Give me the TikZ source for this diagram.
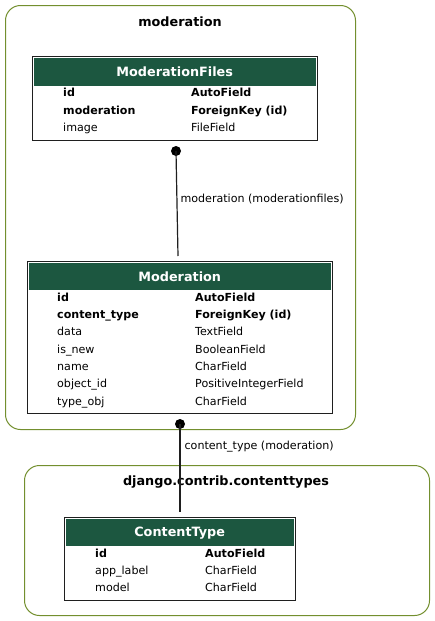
\documentclass[tikz,border=0pt]{standalone}
\usepackage{fontspec}
\setmainfont{DejaVu Sans}
\usepackage{tikz}
\usetikzlibrary{positioning}
\definecolor{headgreen}{rgb}{0.11,0.34,0.25}
\definecolor{clusterolive}{rgb}{0.45,0.56,0.18}
\definecolor{boxgray}{rgb}{0.12,0.12,0.12}
\tikzset{
cluster_box/.style={rectangle, rounded corners=15pt, draw=clusterolive, line width=1pt, anchor=north west, inner sep=0},
cluster_title/.style={font=\fontsize{12.8}{14}\selectfont\bfseries, inner sep=0},
table_box/.style={rectangle, draw=boxgray, line width=1.4pt, fill=white, anchor=north west, inner sep=0},
table_head/.style={rectangle, fill=headgreen, text=white, anchor=north west, font=\fontsize{12.8}{14}\selectfont\bfseries, inner sep=0},
field/.style={anchor=west, inner sep=0, text height=10pt, text depth=2pt, font=\fontsize{11.1}{13}\selectfont},
key_field/.style={field, font=\fontsize{11.1}{13}\selectfont\bfseries},
dot/.style={circle, fill=black, minimum size=10pt, inner sep=0},
edge_label/.style={font=\fontsize{11.1}{13}\selectfont, inner sep=0}
}
\begin{document}
\begin{tikzpicture}[x=1pt, y=-1pt]
    \useasboundingbox (0,0) rectangle (435,621);

    % app clusters
    \node[cluster_box, minimum width=350pt, minimum height=424pt] (moderation_app) at (5,5) {};
    \node[cluster_title] (moderation_title) at (180,22) {moderation};
    \node[cluster_box, minimum width=405pt, minimum height=150pt] (contenttypes_app) at (24,465) {};
    \node[cluster_title] (contenttypes_title) at (226,482) {django.contrib.contenttypes};

    % ModerationFiles
    \node[table_box, minimum width=285pt, minimum height=84pt] (mf_box) at (32,56) {};
    \node[table_head, minimum width=282pt, minimum height=28pt] (mf_head) at (33.5,58) {ModerationFiles};
    \node[key_field] (mf_id) at (63,92) {id};
    \node[key_field] (mf_id_type) at (191,92) {AutoField};
    \node[key_field] (mf_moderation) at (63,110) {moderation};
    \node[key_field] (mf_moderation_type) at (191,110) {ForeignKey (id)};
    \node[field] (mf_image) at (63,127) {image};
    \node[field] (mf_image_type) at (191,127) {FileField};

    % Moderation
    \node[table_box, minimum width=305pt, minimum height=152pt] (mod_box) at (27,261) {};
    \node[table_head, minimum width=302pt, minimum height=27pt] (mod_head) at (28.5,263) {Moderation};
    \node[key_field] (mod_id) at (57,297) {id};
    \node[key_field] (mod_id_type) at (195,297) {AutoField};
    \node[key_field] (mod_ct) at (57,314) {content\_type};
    \node[key_field] (mod_ct_type) at (195,314) {ForeignKey (id)};
    \node[field] (mod_data) at (57,331) {data};
    \node[field] (mod_data_type) at (195,331) {TextField};
    \node[field] (mod_new) at (57,349) {is\_new};
    \node[field] (mod_new_type) at (195,349) {BooleanField};
    \node[field] (mod_name) at (57,366) {name};
    \node[field] (mod_name_type) at (195,366) {CharField};
    \node[field] (mod_obj) at (57,383) {object\_id};
    \node[field] (mod_obj_type) at (195,383) {PositiveIntegerField};
    \node[field] (mod_tobj) at (57,401) {type\_obj};
    \node[field] (mod_tobj_type) at (195,401) {CharField};

    % ContentType
    \node[table_box, minimum width=231pt, minimum height=83pt] (ct_box) at (64,517) {};
    \node[table_head, minimum width=228pt, minimum height=27pt] (ct_head) at (65.5,519) {ContentType};
    \node[key_field] (ct_id) at (95,553) {id};
    \node[key_field] (ct_id_type) at (205,553) {AutoField};
    \node[field] (ct_label) at (95,570) {app\_label};
    \node[field] (ct_label_type) at (205,570) {CharField};
    \node[field] (ct_model) at (95,587) {model};
    \node[field] (ct_model_type) at (205,587) {CharField};

    % relations
    \node[dot] (mf_dot) at (176,151) {};
    \coordinate (mod_end) at (178,256);
    \draw[line width=1.2pt, boxgray] (mf_dot.center) -- (mod_end) node[pos=0.46, right=3pt, edge_label, black] {moderation (moderationfiles)};
    \node[dot] (mod_dot) at (180,424) {};
    \coordinate (ct_end) at (180,512);
    \draw[line width=1.2pt, boxgray] (mod_dot.center) -- (ct_end) node[pos=0.26, right=4pt, edge_label, black] {content\_type (moderation)};
\end{tikzpicture}
\end{document}
